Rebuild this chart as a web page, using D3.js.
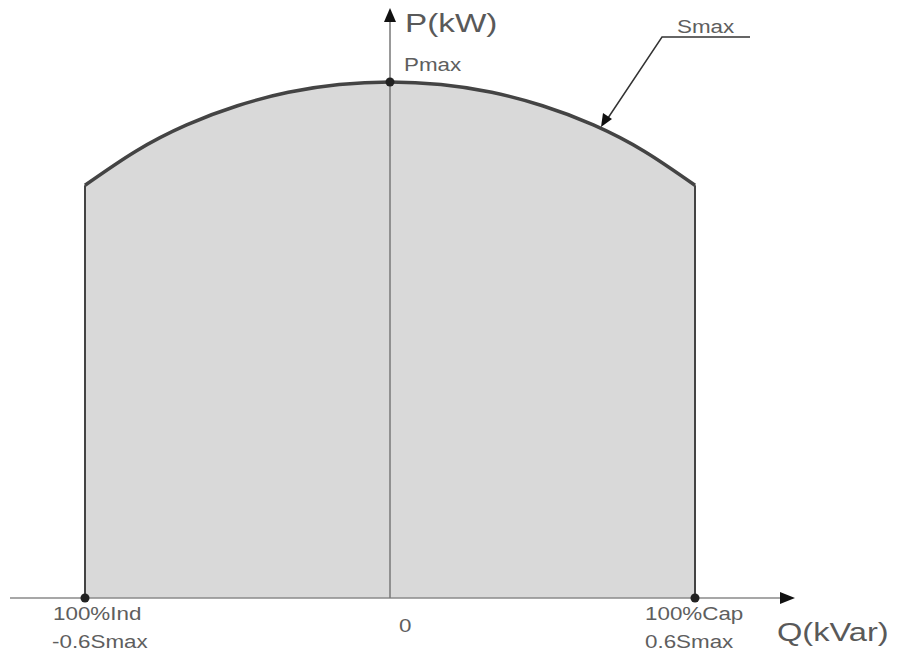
<!DOCTYPE html>
<html><head><meta charset="utf-8">
<script src="https://cdn.jsdelivr.net/npm/d3@7"></script>
<style>body{margin:0;background:#fff}svg{display:block}</style>
</head><body>
<svg id="c" width="897" height="661"></svg>
<script>
// Boundary of the capability area (Q in Smax units, P in Pmax units)
const qValues = [-0.6, -0.5, -0.4, -0.3, -0.2, -0.1, 0, 0.1, 0.2, 0.3, 0.4, 0.5, 0.6];
const pValues = [0.8, 0.866, 0.917, 0.954, 0.98, 0.995, 1, 0.995, 0.98, 0.954, 0.917, 0.866, 0.8];
const markerQ = [-0.6, 0.6];
const xLabels = [["100%Ind", "-0.6Smax"], ["0"], ["100%Cap", "0.6Smax"]];
const xLabelQ = [-0.6, 0, 0.6];

const svg = d3.select("#c");
const x = d3.scaleLinear().domain([-0.6, 0.6]).range([85, 695]);
const y = d3.scaleLinear().domain([0, 1]).range([598, 82]);
const font = "Arial, 'Liberation Sans', sans-serif";
const SX = 1.28;

function txt(t, px, py, size, color) {
  svg.append("text").attr("transform", `translate(${px},${py}) scale(${SX},1)`)
    .text(t).attr("font-family", font).attr("font-size", size).attr("fill", color || "#5e5e5e");
}

const pts = qValues.map((q, i) => [q, pValues[i]]);

// filled area
svg.append("path")
  .datum(pts)
  .attr("d", d3.area().x(d => x(d[0])).y0(y(0)).y1(d => y(d[1])).curve(d3.curveNatural))
  .attr("fill", "#d9d9d9");

// x axis
svg.append("line").attr("x1", 10).attr("x2", 782).attr("y1", y(0)).attr("y2", y(0))
  .attr("stroke", "#8a8a8a").attr("stroke-width", 1.5);
svg.append("path").attr("d", `M795,${y(0)} L780,${y(0)-6} L780,${y(0)+6} Z`).attr("fill", "#111");

// y axis
svg.append("line").attr("x1", x(0)).attr("x2", x(0)).attr("y1", y(0)).attr("y2", 20)
  .attr("stroke", "#777").attr("stroke-width", 1.5);
svg.append("path").attr("d", `M${x(0)},8 L${x(0)-6},22 L${x(0)+6},22 Z`).attr("fill", "#111");

// side lines
markerQ.forEach((q, i) => {
  svg.append("line").attr("x1", x(q)).attr("x2", x(q))
    .attr("y1", y(0)).attr("y2", y(pValues[i === 0 ? 0 : pValues.length - 1]))
    .attr("stroke", "#444").attr("stroke-width", 2);
});

// curve
svg.append("path")
  .datum(pts)
  .attr("d", d3.line().x(d => x(d[0])).y(d => y(d[1])).curve(d3.curveNatural))
  .attr("fill", "none").attr("stroke", "#444").attr("stroke-width", 3.5);

// dots
[[-0.6, 0], [0.6, 0], [0, 1]].forEach(d => {
  svg.append("circle").attr("cx", x(d[0])).attr("cy", y(d[1])).attr("r", 4.5).attr("fill", "#222");
});

// axis titles
txt("P(kW)", 405, 32, 26, "#595959");
txt("Q(kVar)", 777, 641, 25.5, "#595959");
txt("Pmax", 404, 71, 17.5);

// x labels
const xOff = [-32, 9, -50];
xLabels.forEach((lines, i) => {
  lines.forEach((t, j) => {
    txt(t, x(xLabelQ[i]) + xOff[i] - (j === 1 && i === 0 ? 1 : 0),
      lines.length === 1 ? 632 : 620 + j * 27.5, 17.5);
  });
});

// Smax annotation
txt("Smax", 677, 33, 17.5);
svg.append("path").attr("d", "M750,37 L662,37 L606,121").attr("fill", "none")
  .attr("stroke", "#333").attr("stroke-width", 1.5);
svg.append("path").attr("d", "M601,127 L603,113 L612,119 Z").attr("fill", "#111");
</script>
</body></html>
